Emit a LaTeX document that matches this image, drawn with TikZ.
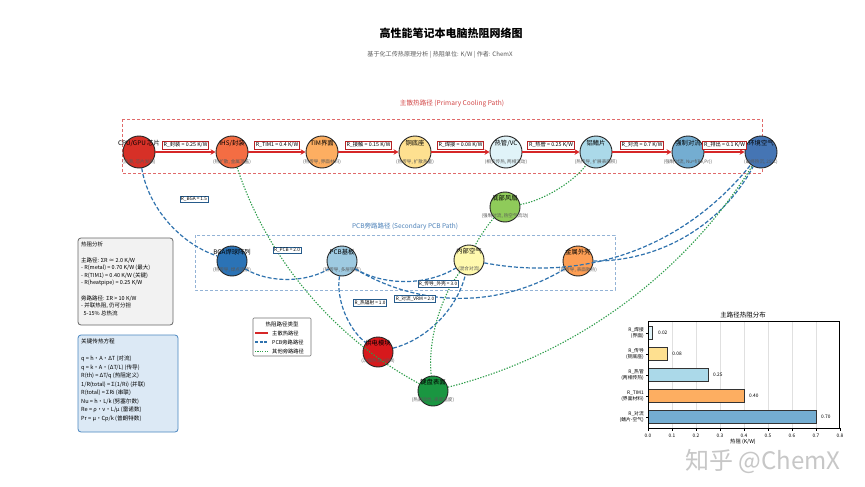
\documentclass[tikz,border=0pt]{standalone}
\usepackage{fontspec}
\setmainfont{Noto Sans CJK SC}
\usetikzlibrary{arrows.meta,calc}
\definecolor{cpuC}{HTML}{D73027}
\definecolor{ihsC}{HTML}{F46D43}
\definecolor{timC}{HTML}{FDAE61}
\definecolor{cuC}{HTML}{FEE090}
\definecolor{hpC}{HTML}{E0F3F8}
\definecolor{finC}{HTML}{ABD9E9}
\definecolor{convC}{HTML}{74ADD1}
\definecolor{ambC}{HTML}{4575B4}
\definecolor{saC}{HTML}{2B73B6}
\definecolor{pcbC}{HTML}{9ECAE1}
\definecolor{airC}{HTML}{FFF9AE}
\definecolor{shellC}{HTML}{FD9E54}
\definecolor{fanC}{HTML}{8FCB5A}
\definecolor{vrmC}{HTML}{D7191C}
\definecolor{kbC}{HTML}{1A9641}
\definecolor{primE}{HTML}{D62728}
\definecolor{pcbE}{HTML}{2F72AE}
\definecolor{othE}{HTML}{2E9E4A}
\definecolor{rectR}{HTML}{E06A6A}
\definecolor{rectB}{HTML}{93B3D6}
\definecolor{labR}{HTML}{D24545}
\definecolor{labB}{HTML}{4A80B8}
\definecolor{box1}{HTML}{F2F2F2}
\definecolor{box2}{HTML}{DCE9F5}
\definecolor{box2D}{HTML}{4A86C0}
\newcommand{\fsz}[2]{\fontsize{#1}{#2}\selectfont}
\newcommand{\arcedge}[4]{%
  \coordinate (qq) at ($(#2)!0.5!(#3)!{2*#4}!-90:(#3)$);
  \draw[#1] (#2) .. controls ($(#2)!0.6667!(qq)$) and ($(#3)!0.6667!(qq)$) .. (#3);}
\begin{document}
\begin{tikzpicture}[x=1pt,y=1pt,
  nd/.style={circle, draw=black!85, line width=0.9pt, minimum size=32pt, inner sep=0pt},
  nds/.style={nd, minimum size=30pt},
  lab/.style={font=\fsz{6.3}{7}, inner sep=0pt},
  sub/.style={font=\fsz{4.6}{5}, text=black!65, inner sep=0pt},
  elab/.style={draw=primE!85!black, fill=white, line width=0.6pt, font=\fsz{5.3}{6}, inner sep=1.3pt},
  blab/.style={draw=pcbE!80!black, fill=white, line width=0.5pt, font=\fsz{4.7}{5.5}, inner sep=1.1pt},
  prim/.style={draw=primE, line width=2.4pt, -{Stealth[length=5pt,width=5.5pt]}},
  pcbedge/.style={draw=pcbE, line width=1.2pt, dash pattern=on 4pt off 2pt},
  othedge/.style={draw=othE, line width=1.1pt, dash pattern=on 1.3pt off 1.5pt},
  infotext/.style={anchor=north west, align=left, inner sep=0pt},
  tick/.style={font=\fsz{4.8}{5.5}, inner sep=0pt}]
\useasboundingbox (0,0) rectangle (865,-487);
\fill[white] (0,0) rectangle (865,-487);

% titles
\node[font=\bfseries\fsz{11}{13}] (title) at (451,-33) {高性能笔记本电脑热阻网络图};
\node[font=\fsz{6.1}{7}, text=black!65] (subt) at (440,-55) {基于化工传热原理分析 | 热阻单位: K/W | 作者: ChemX};

% region boxes
\draw[rectR, line width=0.9pt, dash pattern=on 3pt off 2pt] (122,-119) rectangle (762,-173);
\node[font=\fsz{6.6}{7.5}, text=labR] (plab) at (452,-104) {主散热路径 (Primary Cooling Path)};
\draw[rectB, line width=0.9pt, dash pattern=on 3pt off 2pt] (195,-235) rectangle (615,-290);
\node[font=\fsz{6.5}{7.5}, text=labB] (slab) at (405,-226) {PCB旁路路径 (Secondary PCB Path)};

% nodes
\node[nd, fill=cpuC] (cpu) at (139,-152) {};
\node[nd, fill=ihsC] (ihs) at (232,-152) {};
\node[nd, fill=timC] (tim) at (322,-152) {};
\node[nd, fill=cuC] (cu) at (415,-152) {};
\node[nd, fill=hpC] (hp) at (506,-152) {};
\node[nd, fill=finC] (fin) at (596,-152) {};
\node[nd, fill=convC] (conv) at (688,-152) {};
\node[nd, fill=ambC] (amb) at (761,-152) {};
\node[nds, fill=saC] (sa) at (232,-261) {};
\node[nds, fill=pcbC] (pcb) at (342,-261) {};
\node[nds, fill=airC] (air) at (469,-260) {};
\node[nds, fill=shellC] (shell) at (578,-261) {};
\node[nds, fill=fanC] (fan) at (505,-207) {};
\node[nds, fill=vrmC] (vrm) at (378,-352) {};
\node[nds, fill=kbC] (kb) at (433,-391) {};

% primary arrows
\draw[prim] (cpu) -- (ihs);
\draw[prim] (ihs) -- (tim);
\draw[prim] (tim) -- (cu);
\draw[prim] (cu) -- (hp);
\draw[prim] (hp) -- (fin);
\draw[prim] (fin) -- (conv);
\draw[prim] (conv) -- (amb);

% node texts
\node[lab] (t1) at (139,-143) {CPU/GPU 芯片};
\node[sub] (s1) at (139,-162) {(热源, 芯片发热)};
\node[lab] (t2) at (232,-143) {IHS/封装};
\node[sub] (s2) at (232,-162) {(热扩散, 金属顶盖)};
\node[lab] (t3) at (322,-143) {TIM界面};
\node[sub] (s3) at (322,-162) {(热传导, 界面材料)};
\node[lab] (t4) at (415,-143) {铜底座};
\node[sub] (s4) at (415,-162) {(热传导, 扩散热量)};
\node[lab] (t5) at (506,-143) {热管/VC};
\node[sub] (s5) at (506,-162) {(相变传热, 两相流动)};
\node[lab] (t6) at (596,-143) {铝鳍片};
\node[sub] (s6) at (596,-162) {(热传导, 扩展表面积)};
\node[lab] (t7) at (688,-143) {强制对流};
\node[sub] (s7) at (688,-162) {(强制对流, Nu=f(Re,Pr))};
\node[lab] (t8) at (761,-143) {环境空气};
\node[sub] (s8) at (761,-162) {(最终热沉, 25°C)};
\node[lab] (t9) at (232,-252) {BGA焊球阵列};
\node[sub] (s9) at (232,-270) {(热传导, 焊点连接)};
\node[lab] (t10) at (342,-252) {PCB基板};
\node[sub] (s10) at (342,-270) {(热传导, 多层铜箔)};
\node[lab] (t11) at (469,-251) {内部空气};
\node[sub] (s11) at (469,-269) {(混合对流)};
\node[lab] (t12) at (578,-252) {金属外壳};
\node[sub] (s12) at (578,-270) {(热传导, 表面散热)};
\node[lab] (t13) at (505,-198) {底部风扇};
\node[sub] (s13) at (505,-216) {(强制对流, 热空气流动)};
\node[lab] (t14) at (378,-343) {供电模块};
\node[sub] (s14) at (378,-361) {(次级热源, VRM)};
\node[lab] (t15) at (433,-382) {键盘表面};
\node[sub] (s15) at (433,-400) {(热舒适性, 表面温度)};

% bypass edges
\arcedge{pcbedge}{cpu}{sa}{0.3}
\arcedge{pcbedge}{sa}{pcb}{0.3}
\arcedge{pcbedge}{pcb}{air}{0.3}
\arcedge{pcbedge}{pcb}{shell}{0.3}
\arcedge{pcbedge}{shell}{amb}{0.3}
\arcedge{pcbedge}{air}{amb}{0.3}
\arcedge{pcbedge}{pcb}{vrm}{0.3}
\arcedge{pcbedge}{vrm}{air}{0.3}
\arcedge{othedge}{ihs}{kb}{0.2}
\arcedge{othedge}{fan}{fin}{0.2}
\arcedge{othedge}{fan}{air}{0.1}
\arcedge{othedge}{air}{kb}{0.2}
\arcedge{othedge}{kb}{amb}{0.2}

% edge labels
\node[elab] (e1) at (185.5,-145) {R\_封装 = 0.25 K/W};
\node[elab] (e2) at (277,-145) {R\_TIM1 = 0.4 K/W};
\node[elab] (e3) at (368.5,-145) {R\_接触 = 0.15 K/W};
\node[elab] (e4) at (460.5,-145) {R\_焊接 = 0.08 K/W};
\node[elab] (e5) at (551,-145) {R\_热管 = 0.25 K/W};
\node[elab] (e6) at (642,-145) {R\_对流 = 0.7 K/W};
\node[elab] (e7) at (724.5,-145) {R\_排出 = 0.1 K/W};
\node[blab] (b1) at (194,-199) {R\_BGA = 1.5};
\node[blab] (b2) at (287,-250) {R\_PCB = 2.0};
\node[blab] (b3) at (438,-284) {R\_传导\_外壳 = 3.0};
\node[blab] (b4) at (415,-299) {R\_对流\_VRM = 2.0};
\node[blab] (b5) at (370,-303) {R\_热辐射 = 1.0};

% legend
\node[draw=black!55, fill=white, line width=0.6pt, rounded corners=1pt, minimum width=58pt, minimum height=38pt, inner sep=0pt] (leg) at (282,-337) {};
\node[font=\fsz{5.5}{6.5}] (legt) at (282,-324) {热阻路径类型};
\coordinate (l1a) at (255,-333); \coordinate (l1b) at (268,-333);
\coordinate (l2a) at (255,-342); \coordinate (l2b) at (268,-342);
\coordinate (l3a) at (255,-351); \coordinate (l3b) at (268,-351);
\draw[primE, line width=1.6pt] (l1a) -- (l1b);
\draw[pcbE, line width=1.1pt, dash pattern=on 3pt off 1.5pt] (l2a) -- (l2b);
\draw[othE, line width=1pt, dash pattern=on 1.2pt off 1.2pt] (l3a) -- (l3b);
\node[font=\fsz{5.3}{6}, anchor=west, inner sep=0pt] (lg1) at (272,-333) {主散热路径};
\node[font=\fsz{5.3}{6}, anchor=west, inner sep=0pt] (lg2) at (272,-342) {PCB旁路路径};
\node[font=\fsz{5.3}{6}, anchor=west, inner sep=0pt] (lg3) at (272,-351) {其他旁路路径};

% info box 1
\draw[draw=black!60, fill=box1, line width=0.8pt, rounded corners=3pt] (78,-238) rectangle (173,-325);
\node[infotext, font=\fsz{5.5}{7.6}] (info1) at (81,-242) {热阻分析\\[7.6pt]
主路径: ΣR ≈ 2.0 K/W\\
- R(metal) = 0.70 K/W (最大)\\
- R(TIM1) = 0.40 K/W (关键)\\
- R(heatpipe) = 0.25 K/W\\[7.6pt]
旁路路径: ΣR > 10 K/W\\
- 并联热阻, 仍可分担\\
\ \ 5-15\% 总热流};

% info box 2
\draw[draw=box2D, fill=box2, line width=0.8pt, rounded corners=3pt] (78,-335) rectangle (178,-432);
\node[infotext, font=\fsz{5.6}{8.5}] (info2) at (81,-339) {关键传热方程\\[8.5pt]
q = h·A·ΔT (对流)\\
q = k·A·(ΔT/L) (传导)\\
R(th) = ΔT/q (热阻定义)\\
1/R(total) = Σ(1/Ri) (并联)\\
R(total) = ΣRi (串联)\\
Nu = h·L/k (努塞尔数)\\
Re = ρ·v·L/μ (雷诺数)\\
Pr = μ·Cp/k (普朗特数)};

% watermark
\node[text=black!22, font=\fsz{24}{27}] (wm) at (763,-461) {知乎 @ChemX};

% chart
\node[font=\fsz{6.5}{7.5}] (ctitle) at (743,-315) {主路径热阻分布};
\foreach \k in {1,...,7} \draw[black!12, line width=0.4pt] ({648+24*\k},-321) -- ({648+24*\k},-428);
\foreach \v/\yy/\c in {0.02/333/hpC, 0.08/354/cuC, 0.25/375/finC, 0.40/396/timC, 0.70/417/convC} {
  \draw[fill=\c, draw=black!80, line width=0.8pt] (648,-\yy+6.3) rectangle ({648+240*\v},-\yy-6.3);
  \node[tick, anchor=west] at ({648+240*\v+5},-\yy) {\v};
  \draw[black, line width=0.5pt] (648,-\yy) -- (645.5,-\yy);
}
\draw[black, line width=0.6pt] (648,-321) rectangle (839,-428);
\foreach \k in {0,...,8} {
  \draw[black, line width=0.5pt] ({648+24*\k},-428) -- ({648+24*\k},-430.5);
  \node[tick] at ({648+24*\k},-435.5) {0.\k};
}
\node[tick, anchor=east, align=right, font=\fsz{4.8}{6}] (y1) at (644,-333) {R\_焊接\\(界面)};
\node[tick, anchor=east, align=right, font=\fsz{4.8}{6}] (y2) at (644,-354) {R\_传导\\(铜底座)};
\node[tick, anchor=east, align=right, font=\fsz{4.8}{6}] (y3) at (644,-375) {R\_热管\\(两相传热)};
\node[tick, anchor=east, align=right, font=\fsz{4.8}{6}] (y4) at (644,-396) {R\_TIM1\\(界面材料)};
\node[tick, anchor=east, align=right, font=\fsz{4.8}{6}] (y5) at (644,-417) {R\_对流\\(鳍片-空气)};
\node[font=\fsz{5.3}{6}] (xl) at (743,-442) {热阻 (K/W)};
\end{tikzpicture}
\end{document}
